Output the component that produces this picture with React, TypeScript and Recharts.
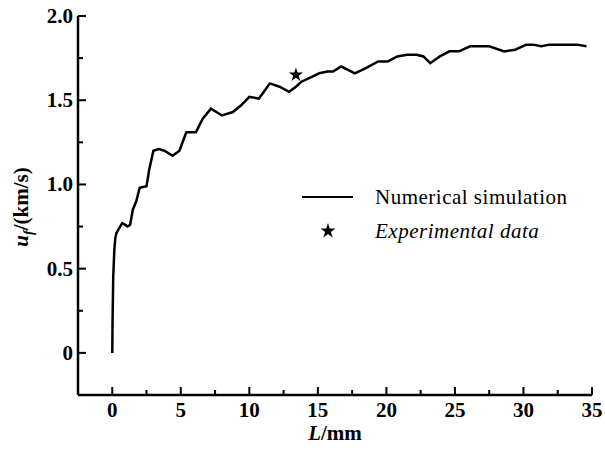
import React from 'react';
import { ComposedChart, Line, Scatter, XAxis, YAxis, Symbols } from 'recharts';

// numerical simulation
const lengthMm = [
  0, 0.02, 0.07, 0.15, 0.22, 0.3, 0.5, 0.73, 0.95, 1.1, 1.3, 1.5, 1.75, 2.0, 2.5,
  2.7, 3.0, 3.4, 3.8, 4.4, 4.9, 5.4, 6.1, 6.6, 7.2, 7.8, 8.0, 8.8, 9.4, 10.0,
  10.7, 11.5, 12.2, 12.9, 13.4, 13.8, 14.6, 15.1, 15.7, 16.1, 16.7, 17.2, 17.7, 18.5, 19.4,
  20.1, 20.8, 21.5, 22.2, 22.7, 23.2, 23.9, 24.6, 25.3, 26.1, 27.5, 28.6, 29.4, 30.2, 30.7,
  31.3, 31.9, 33.0, 33.9, 34.6,
];
const speedKmS = [
  0, 0.18, 0.45, 0.61, 0.68, 0.71, 0.74, 0.77, 0.76, 0.75, 0.76, 0.85, 0.9, 0.98, 0.99,
  1.09, 1.2, 1.21, 1.2, 1.17, 1.2, 1.31, 1.31, 1.39, 1.45, 1.42, 1.41, 1.43, 1.47, 1.52,
  1.51, 1.6, 1.58, 1.55, 1.58, 1.61, 1.64, 1.66, 1.67, 1.67, 1.7, 1.68, 1.66, 1.69, 1.73,
  1.73, 1.76, 1.77, 1.77, 1.76, 1.72, 1.76, 1.79, 1.79, 1.82, 1.82, 1.79, 1.8, 1.83, 1.83,
  1.82, 1.83, 1.83, 1.83, 1.82,
];

// experimental point
const expLength = [13.4];
const expSpeed = [1.65];

const xTicks = [0, 2.5, 5, 7.5, 10, 12.5, 15, 17.5, 20, 22.5, 25, 27.5, 30, 32.5, 35];
const yTicks = [0, 0.25, 0.5, 0.75, 1.0, 1.25, 1.5, 1.75, 2.0];

const simData = lengthMm.map((L, i) => ({ L, u: speedKmS[i] }));
const expData = expLength.map((L, i) => ({ L, u: expSpeed[i] }));

const FONT = '"Liberation Serif", "Times New Roman", serif';

const XTick = (props: any) => {
  const { x, y, payload } = props;
  const v = payload.value;
  const major = v % 5 === 0;
  return (
    <g>
      <line x1={x} x2={x} y1={y} y2={y - (major ? 8 : 5)} stroke="#000" strokeWidth={2} />
      {major && (
        <text x={x} y={y + 22} textAnchor="middle" fontFamily={FONT} fontSize={21} fontWeight="bold" fill="#000">
          {v}
        </text>
      )}
    </g>
  );
};

const YTick = (props: any) => {
  const { x, y, payload } = props;
  const v = payload.value;
  const major = Math.abs((v * 2) % 1) < 1e-6;
  return (
    <g>
      <line x1={x} x2={x + (major ? 8 : 5)} y1={y} y2={y} stroke="#000" strokeWidth={2} />
      {major && (
        <text x={x - 5} y={y + 7} textAnchor="end" fontFamily={FONT} fontSize={21} fontWeight="bold" fill="#000">
          {v === 0 ? '0' : v.toFixed(1)}
        </text>
      )}
    </g>
  );
};

const App: React.FC = () => {
  return (
    <div style={{ position: 'absolute', left: 0, top: 0, width: 605, height: 450, background: '#fff' }}>
      <ComposedChart width={605} height={450} margin={{ top: 16, right: 13, bottom: 15, left: 0 }}>
        <XAxis
          dataKey="L"
          type="number"
          domain={[-2.5, 35]}
          ticks={xTicks}
          interval={0}
          allowDataOverflow
          height={40}
          tickSize={0}
          tickMargin={0}
          tickLine={false}
          tick={<XTick />}
          axisLine={{ stroke: '#000', strokeWidth: 2.5 }}
          label={{
            content: () => (
              <text x={335} y={440} textAnchor="middle" fontFamily={FONT} fontSize={21} fontWeight="bold" fill="#000">
                <tspan fontStyle="italic">L</tspan>/mm
              </text>
            ),
          }}
        />
        <YAxis
          dataKey="u"
          type="number"
          domain={[-0.25, 2]}
          ticks={yTicks}
          interval={0}
          allowDataOverflow
          width={78}
          tickSize={0}
          tickMargin={0}
          tickLine={false}
          tick={<YTick />}
          axisLine={{ stroke: '#000', strokeWidth: 2.5 }}
          label={{
            content: () => (
              <text
                transform="translate(28,207) rotate(-90)"
                textAnchor="middle"
                fontFamily={FONT}
                fontSize={21}
                fontWeight="bold"
                fill="#000"
              >
                <tspan fontStyle="italic">u</tspan>
                <tspan fontStyle="italic" fontSize={14} dy={5}>f</tspan>
                <tspan dy={-5}>/(km/s)</tspan>
              </text>
            ),
          }}
        />
        <Line
          data={simData}
          dataKey="u"
          type="linear"
          stroke="#000"
          strokeWidth={2.5}
          dot={false}
          isAnimationActive={false}
        />
        <Scatter
          data={expData}
          dataKey="u"
          shape="star"
          fill="#000"
          isAnimationActive={false}
        />
      </ComposedChart>
      <svg width={290} height={70} style={{ position: 'absolute', left: 300, top: 180 }}>
        <line x1={2} x2={53} y1={17} y2={17} stroke="#000" strokeWidth={2} />
        <text x={75} y={24} fontFamily={FONT} fontSize={21} letterSpacing={0.5} fill="#000">
          Numerical simulation
        </text>
        <Symbols cx={28} cy={51} type="star" size={70} fill="#000" />
        <text x={75} y={58} fontFamily={FONT} fontSize={21} fontStyle="italic" letterSpacing={0.5} fill="#000">
          Experimental data
        </text>
      </svg>
    </div>
  );
};

export default App;
